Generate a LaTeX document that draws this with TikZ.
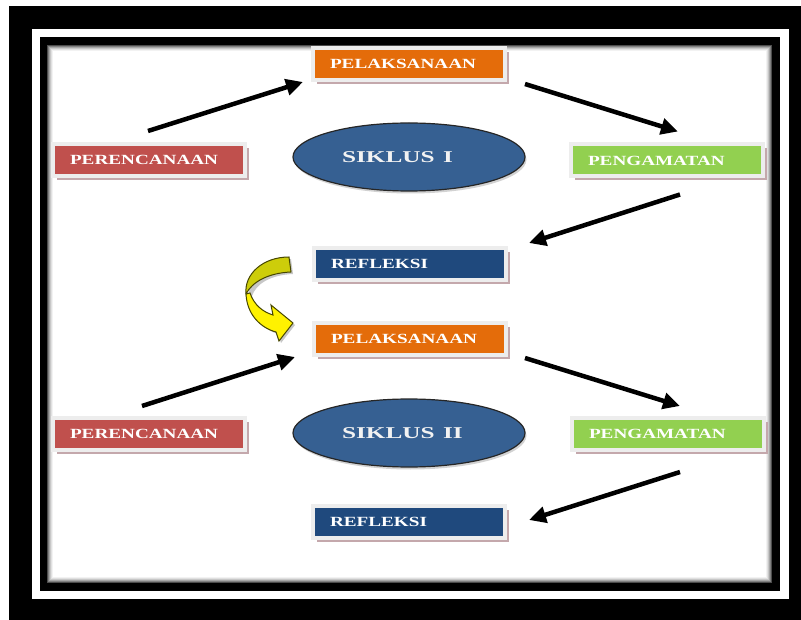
\documentclass[tikz,border=0pt]{standalone}
\usepackage{fontspec}
\setmainfont{Liberation Serif}
\usetikzlibrary{arrows.meta,shadows,shapes.geometric,calc}
\definecolor{orangeC}{HTML}{E46C0A}
\definecolor{redC}{HTML}{C0504D}
\definecolor{greenC}{HTML}{92D050}
\definecolor{navyC}{HTML}{1F497D}
\definecolor{siklusC}{HTML}{366092}
\definecolor{rosyC}{RGB}{196,168,172}
\definecolor{oliveC}{RGB}{205,205,10}
\definecolor{edgeC}{RGB}{70,70,0}
\newcommand{\wider}[2]{\scalebox{#1}[1]{#2}}
\begin{document}
\begin{tikzpicture}[x=1pt, y=-1pt,
  stage/.style={rectangle, minimum width=192pt, minimum height=32pt, text width=158pt,
    align=left, inner xsep=17pt, draw=black!7, line width=4pt, text=white,
    font=\fontsize{14}{14}\selectfont\bfseries,
    drop shadow={shadow xshift=4pt, shadow yshift=-4pt, fill=rosyC, opacity=1}},
  siklus/.style={ellipse, minimum width=232pt, minimum height=68pt, text width=134pt,
    align=left, fill=siklusC, draw=black!85, line width=1.2pt, text=black!5,
    font=\fontsize{16.5}{16.5}\selectfont\bfseries,
    drop shadow={shadow xshift=1.5pt, shadow yshift=-2.5pt, opacity=.35}},
  arr/.style={line width=4.5pt, -{Triangle[length=17pt,width=16pt]}}]
  \useasboundingbox (0,0) rectangle (801,620);
  \fill[white] (0,0) rectangle (801,620);
  \fill (9,6) rectangle (801,620);
  \fill[white] (32,29) rectangle (789,599);
  \fill (40,37) rectangle (780,591);
  \foreach \g [count=\i] in {70,50,35,22,12,5,0}
    \fill[black!\g] (46+\i,44+\i) rectangle (773-\i,584-\i);

  \node[stage, fill=orangeC] (pel1) at (409,64) {\wider{1.37}{PELAKSANAAN}};
  \node[stage, fill=redC] (per1) at (149,160) {\wider{1.37}{PERENCANAAN}};
  \node[stage, fill=greenC] (pen1) at (667,160.5) {\wider{1.37}{PENGAMATAN}};
  \node[stage, fill=navyC] (ref1) at (410,264) {\wider{1.37}{REFLEKSI}};
  \node[siklus] (sik1) at (409,157) {\wider{1.53}{SIKLUS I}};

  \node[stage, fill=orangeC] (pel2) at (410,339) {\wider{1.37}{PELAKSANAAN}};
  \node[stage, fill=redC] (per2) at (149,434) {\wider{1.37}{PERENCANAAN}};
  \node[stage, fill=greenC] (pen2) at (668,434) {\wider{1.37}{PENGAMATAN}};
  \node[stage, fill=navyC] (ref2) at (409,521.5) {\wider{1.37}{REFLEKSI}};
  \node[siklus] (sik2) at (409,433) {\wider{1.53}{SIKLUS II}};

  \draw[arr] ($(per1.north)+(-1,-11)$) -- ($(pel1.south west)+(-8,0)$);
  \draw[arr] ($(pel1.south east)+(18,2)$) -- ($(pen1.north)+(11,-11)$);
  \draw[arr] ($(pen1.south)+(13,16)$) -- ($(ref1.north east)+(21,-3)$);
  \draw[arr] ($(per2.north)+(-7,-10)$) -- ($(pel2.south west)+(-17,0)$);
  \draw[arr] ($(pel2.south east)+(17,1)$) -- ($(pen2.north)+(12,-10)$);
  \draw[arr] ($(pen2.south)+(12,20)$) -- ($(ref2.east)+(22,-1.5)$);

  \fill[black!22] (291,259) .. controls (265,259) and (246,276) .. (249,296)
    .. controls (250,317) and (264,330) .. (278,334) -- (281,343) -- (295,325)
    -- (273,307) -- (275,317) .. controls (264,314) and (255,306) .. (252,296)
    .. controls (256,284) and (270,275) .. (293,274) -- cycle;
  \filldraw[fill=oliveC, draw=edgeC, line width=1pt] (289,257)
    .. controls (263,257) and (244,274) .. (246,294)
    .. controls (252,282) and (268,273) .. (291,272) -- cycle;
  \filldraw[fill=yellow, draw=edgeC, line width=1pt] (246,294)
    .. controls (247,315) and (261,328) .. (276,332) -- (279,341) -- (293,323)
    -- (271,305) -- (273,315) .. controls (263,312) and (254,305) .. (250,293) -- cycle;
\end{tikzpicture}
\end{document}
